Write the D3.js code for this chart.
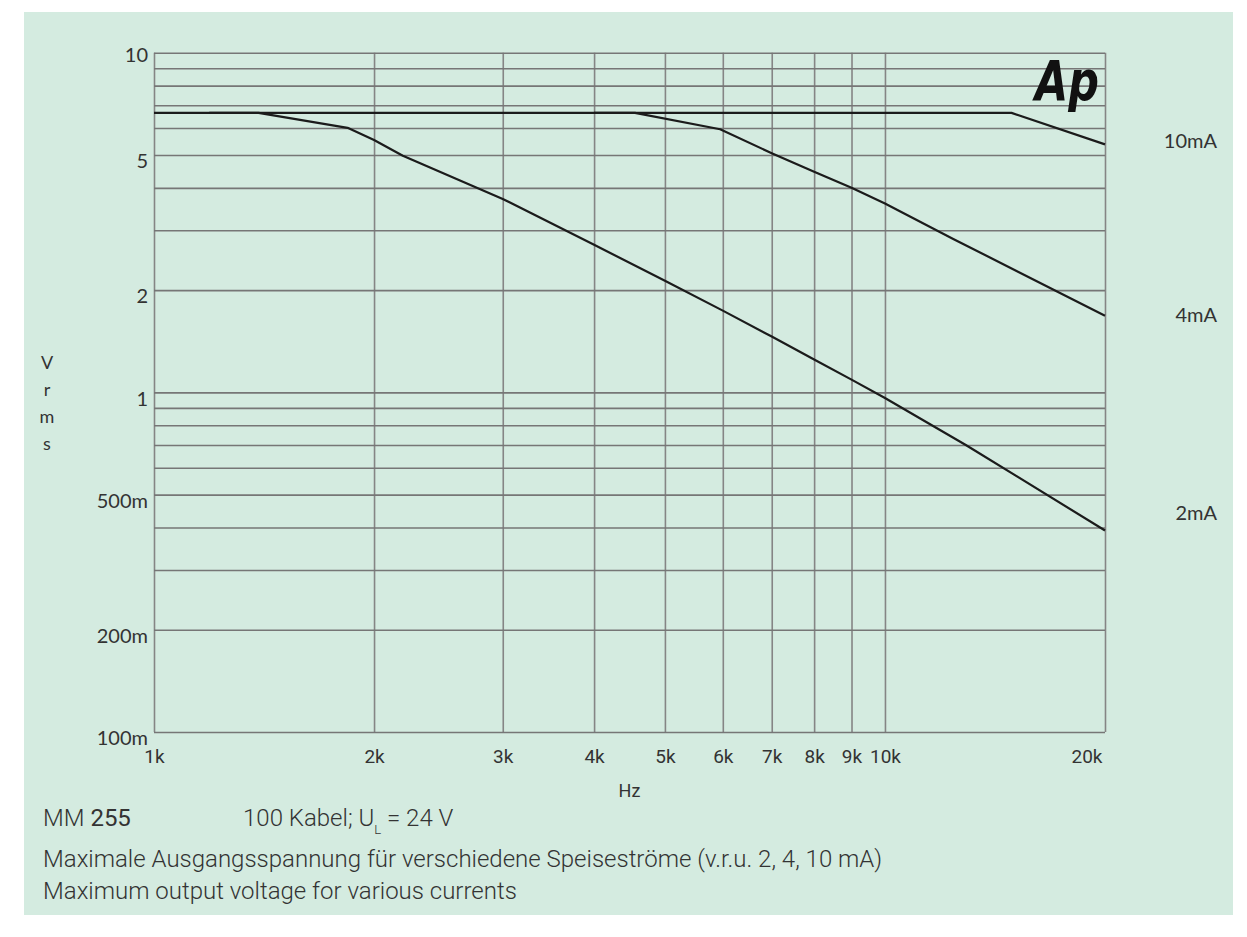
<!DOCTYPE html>
<html>
<head>
<meta charset="utf-8">
<script src="https://cdn.jsdelivr.net/npm/d3@7/dist/d3.min.js"></script>
<style>
  body { margin: 0; background: #fff; }
  svg { display: block; }
</style>
</head>
<body>
<script>
// frequency in kHz, level in Vrms
const f2mA = [1.0, 1.39, 1.84, 2.0, 2.19, 3.0, 4.0, 5.0, 6.0, 7.0, 8.0, 9.0, 10.0, 12.9, 20.0]
const v2mA = [6.65, 6.65, 6.01, 5.53, 4.97, 3.71, 2.72, 2.13, 1.74, 1.46, 1.25, 1.09, 0.962, 0.70, 0.392]

const f4mA = [1.19, 4.55, 5.95, 7.0, 8.0, 9.0, 10.0, 12.4, 20.0]
const v4mA = [6.65, 6.65, 5.95, 5.06, 4.46, 4.0, 3.60, 2.83, 1.68]

const f10mA = [4.0, 14.9, 20.0]
const v10mA = [6.65, 6.65, 5.37]

const seriesNames = ['2mA', '4mA', '10mA']

const xTicks = [1, 2, 3, 4, 5, 6, 7, 8, 9, 10, 20]
const xTickLabels = ['1k', '2k', '3k', '4k', '5k', '6k', '7k', '8k', '9k', '10k', '20k']
const yGrid = [10, 9, 8, 7, 6, 5, 4, 3, 2, 1, 0.9, 0.8, 0.7, 0.6, 0.5, 0.4, 0.3, 0.2, 0.1]
const yTicks = [10, 5, 2, 1, 0.5, 0.2, 0.1]
const yTickLabels = ['10', '5', '2', '1', '500m', '200m', '100m']

const captionLines = [
  'Maximale Ausgangsspannung für verschiedene Speiseströme (v.r.u. 2, 4, 10 mA)',
  'Maximum output voltage for various currents',
]

const width = 1247
const height = 937
const margin = { top: 52.7, right: 142, bottom: 205, left: 154 }
const gridColor = '#767676'
const textColor = '#333'

const svg = d3.select('body').append('svg')
  .attr('xmlns', 'http://www.w3.org/2000/svg')
  .attr('width', width)
  .attr('height', height)

svg.append('rect')
  .attr('x', 24)
  .attr('y', 12)
  .attr('width', 1209)
  .attr('height', 903)
  .attr('fill', '#d4ebe0')

const x = d3.scaleLog()
  .domain([1, 20])
  .range([margin.left, width - margin.right])

const y = d3.scaleLog()
  .domain([0.1, 10])
  .range([height - margin.bottom, margin.top])

// Grid
svg.append('g')
  .attr('transform', `translate(0,${height - margin.bottom})`)
  .call(d3.axisBottom(x).tickValues(xTicks).tickSize(-(height - margin.bottom - margin.top)).tickFormat(''))
  .call(g => g.select('.domain').remove())
  .call(g => g.selectAll('line').attr('stroke', '#858585').attr('stroke-width', 1.6))

svg.append('g')
  .attr('transform', `translate(${margin.left},0)`)
  .call(d3.axisLeft(y).tickValues(yGrid).tickSize(-(width - margin.right - margin.left)).tickFormat(''))
  .call(g => g.select('.domain').remove())
  .call(g => g.selectAll('line').attr('stroke', gridColor).attr('stroke-width', 1.6))

// Tick labels
svg.append('g')
  .attr('transform', `translate(${margin.left},0)`)
  .call(d3.axisLeft(y).tickValues(yTicks).tickSize(0).tickPadding(6)
    .tickFormat((d, i) => yTickLabels[i]))
  .call(g => g.select('.domain').remove())
  .call(g => g.selectAll('text')
    .attr('dy', (d, i) => (i === 0 ? '0.42em' : '0.64em'))
    .attr('fill', textColor)
    .style('font-family', 'Lato, "Noto Sans", sans-serif')
    .style('font-size', '20px'))

const lastX = xTicks.length - 1
svg.append('g')
  .attr('transform', `translate(0,${height - margin.bottom})`)
  .call(d3.axisBottom(x).tickValues(xTicks).tickSize(0).tickPadding(18)
    .tickFormat((d, i) => xTickLabels[i]))
  .call(g => g.select('.domain').remove())
  .call(g => g.selectAll('text')
    .attr('fill', textColor)
    .style('font-family', 'Roboto, sans-serif')
    .style('font-size', '19px')
    // the last label is kept inside the frame
    .attr('text-anchor', (d, i) => (i === lastX ? 'end' : 'middle'))
    .attr('dx', (d, i) => (i === lastX ? -3 : 0)))

// Curves
const line = d3.line()
  .x(d => x(d[0]))
  .y(d => y(d[1]))

const curves = [
  d3.zip(f2mA, v2mA),
  d3.zip(f4mA, v4mA),
  d3.zip(f10mA, v10mA),
]

svg.append('g')
  .selectAll('path')
  .data(curves)
  .join('path')
  .attr('d', line)
  .attr('fill', 'none')
  .attr('stroke', '#1b1b1b')
  .attr('stroke-width', 2.2)
  .attr('stroke-linejoin', 'round')

// Series labels at the right
const labelShift = [-10, 6, 4]
svg.append('g')
  .selectAll('text')
  .data(curves)
  .join('text')
  .attr('x', 1217)
  .attr('y', (d, i) => y(d[d.length - 1][1]) + labelShift[i])
  .attr('text-anchor', 'end')
  .attr('fill', textColor)
  .style('font-family', 'Lato, "Noto Sans", sans-serif')
  .style('font-size', '20px')
  .text((d, i) => seriesNames[i])

// Ap logo
svg.append('text')
  .attr('x', 1035)
  .attr('y', 100)
  .attr('fill', '#111')
  .attr('textLength', 64)
  .attr('lengthAdjust', 'spacingAndGlyphs')
  .style('font-family', '"DejaVu Sans", sans-serif')
  .style('font-weight', 'bold')
  .style('font-style', 'italic')
  .style('font-size', '56px')
  .text('Ap')

// Axis titles
const yTitle = svg.append('text')
  .attr('text-anchor', 'middle')
  .attr('fill', textColor)
  .style('font-family', 'Lato, "Noto Sans", sans-serif')
  .style('font-size', '18px')
'Vrms'.split('').forEach((c, i) => {
  yTitle.append('tspan').attr('x', 47).attr('y', 369 + i * 27).text(c)
})

svg.append('text')
  .attr('x', (margin.left + width - margin.right) / 2)
  .attr('y', 797)
  .attr('text-anchor', 'middle')
  .attr('fill', textColor)
  .style('font-family', 'Roboto, sans-serif')
  .style('font-size', '18px')
  .text('Hz')

// Caption
const caption = svg.append('g')
  .attr('fill', textColor)
  .style('font-family', 'Roboto, "Liberation Sans", sans-serif')
  .style('font-size', '24px')
  .style('font-weight', 300)

const model = caption.append('text')
  .attr('x', 43)
  .attr('y', 826)
model.append('tspan').text('MM ')
model.append('tspan').style('font-weight', 400).text('255')

const kabel = caption.append('text')
  .attr('x', 243)
  .attr('y', 826)
kabel.append('tspan').text('100 Kabel; U')
kabel.append('tspan').attr('dy', 8).style('font-size', '13px').text('L')
kabel.append('tspan').attr('dy', -8).text(' = 24 V')

caption.selectAll('text.line')
  .data(captionLines)
  .join('text')
  .attr('class', 'line')
  .attr('x', 43)
  .attr('y', (d, i) => 867 + i * 32)
  .text(d => d)
</script>
</body>
</html>
